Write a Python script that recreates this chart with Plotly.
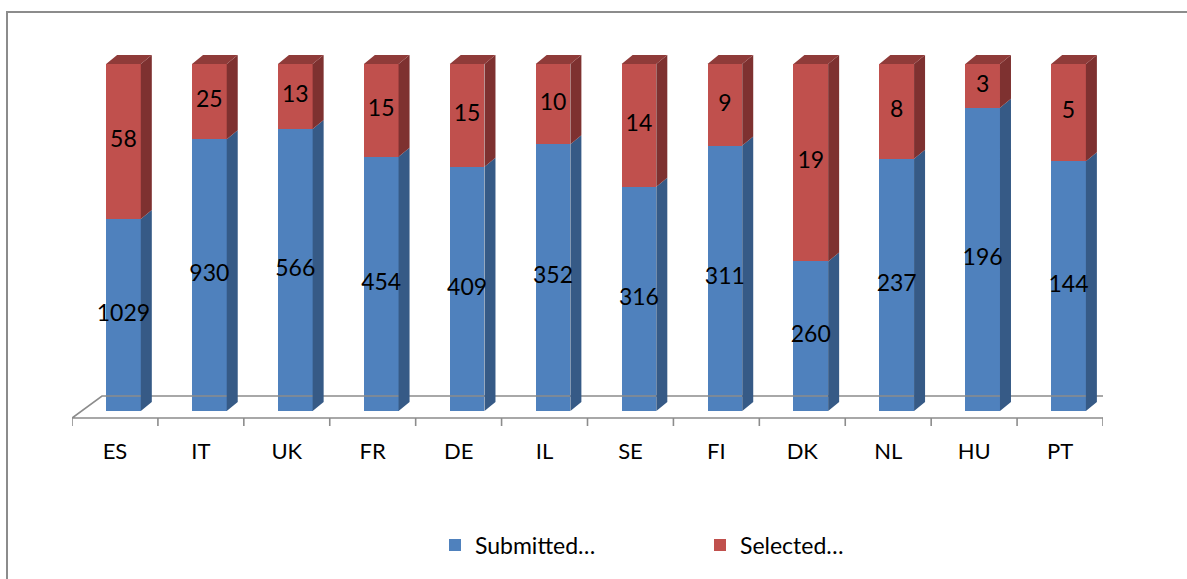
import plotly.graph_objects as go

# ---- data ----
categories = ["ES", "IT", "UK", "FR", "DE", "IL", "SE", "FI", "DK", "NL", "HU", "PT"]
submitted = [1029, 930, 566, 454, 409, 352, 316, 311, 260, 237, 196, 144]
selected = [58, 25, 13, 15, 15, 10, 14, 9, 19, 8, 3, 5]
# plotted shares (100 % stacked column heights as drawn)
submitted_share = [55.3, 78.3, 81.3, 73.3, 70.4, 76.9, 64.6, 76.5, 43.1, 72.7, 87.4, 72.0]
selected_share = [44.7, 21.7, 18.7, 26.7, 29.6, 23.1, 35.4, 23.5, 56.9, 27.3, 12.6, 28.0]

# ---- style / geometry constants ----
BLUE, RED = "#4F81BD", "#C0504D"
BLUE_SIDE, RED_SIDE, RED_TOP = "#365A86", "#7E3130", "#8F3B39"
GRID = "#8C8C8C"
FONT = "Lato"
W, H = 1187, 579
L, R, T, B = 72, 84, 40, 149
PX_X = (W - L - R) / 12.0          # px per category
PX_Y = 3.47                        # px per percent
Y0 = -19 / PX_Y
YMAX = Y0 + (H - T - B) / PX_Y
OFF = 8.5 / PX_X                   # front-face shift from slot centre
BW = 34.7 / PX_X                   # bar front width
DX, DY = 11 / PX_X, 9 / PX_Y       # bar depth
FDX, FDY = 30 / PX_X, 22 / PX_Y    # floor depth
FLOOR_FRONT = -7 / PX_Y
TICK_LEN = 8 / PX_Y

n = len(categories)
xs = [i + OFF for i in range(n)]
tops = [a + b for a, b in zip(submitted_share, selected_share)]

fig = go.Figure()

# floor
fx = [-0.5, n - 0.5, n - 0.5 + FDX, -0.5 + FDX, -0.5]
fy = [FLOOR_FRONT, FLOOR_FRONT, FLOOR_FRONT + FDY, FLOOR_FRONT + FDY, FLOOR_FRONT]
fig.add_trace(go.Scatter(x=fx, y=fy, mode="lines", line=dict(color=GRID, width=1.6),
                         hoverinfo="skip", showlegend=False))
tx, ty = [], []
for k in range(n + 1):
    tx += [k - 0.5, k - 0.5, None]
    ty += [FLOOR_FRONT, FLOOR_FRONT - TICK_LEN, None]
fig.add_trace(go.Scatter(x=tx, y=ty, mode="lines", line=dict(color=GRID, width=1.6),
                         hoverinfo="skip", showlegend=False))

# front faces
fig.add_trace(go.Bar(x=xs, y=submitted_share, width=BW, name="Submitted…",
                     marker=dict(color=BLUE, line=dict(width=0)), hoverinfo="skip"))
fig.add_trace(go.Bar(x=xs, y=selected_share, width=BW, name="Selected…",
                     marker=dict(color=RED, line=dict(width=0)), hoverinfo="skip"))

# side + top faces
bsx, bsy, rsx, rsy, rtx, rty = [], [], [], [], [], []
for x, b, t in zip(xs, submitted_share, tops):
    xl, xr = x - BW / 2, x + BW / 2
    bsx += [xr, xr + DX, xr + DX, xr, xr, None]
    bsy += [0, DY, b + DY, b, 0, None]
    rsx += [xr, xr + DX, xr + DX, xr, xr, None]
    rsy += [b, b + DY, t + DY, t, b, None]
    rtx += [xl, xr, xr + DX, xl + DX, xl, None]
    rty += [t, t, t + DY, t + DY, t, None]
for px, py, c in [(bsx, bsy, BLUE_SIDE), (rsx, rsy, RED_SIDE), (rtx, rty, RED_TOP)]:
    fig.add_trace(go.Scatter(x=px, y=py, mode="lines", fill="toself", fillcolor=c,
                             line=dict(width=0, color=c), hoverinfo="skip", showlegend=False))

# data labels
lx = xs + xs
ly = [b / 2 for b in submitted_share] + [b + r / 2 for b, r in zip(submitted_share, selected_share)]
lt = [str(v) for v in submitted] + [str(v) for v in selected]
fig.add_trace(go.Scatter(x=lx, y=ly, mode="text", text=lt,
                         textfont=dict(family=FONT, size=23, color="black"),
                         hoverinfo="skip", showlegend=False))

# chart-area border
fig.add_shape(type="rect", xref="paper", yref="paper",
              x0=(7 - L) / (W - L - R), x1=1.2,
              y0=-0.6, y1=((H - B) - 12) / (H - T - B),
              line=dict(color=GRID, width=2), fillcolor="rgba(0,0,0,0)", layer="below")

fig.update_layout(
    width=W, height=H, autosize=False,
    margin=dict(l=L, r=R, t=T, b=B),
    paper_bgcolor="white", plot_bgcolor="white",
    barmode="stack", bargap=0,
    font=dict(family=FONT, size=22, color="black"),
    xaxis=dict(range=[-0.5, n - 0.5], tickvals=list(range(n)), ticktext=categories,
               showgrid=False, zeroline=False, showline=False, ticks="",
               ticklabelstandoff=6,
               tickfont=dict(family=FONT, size=22, color="black"), fixedrange=True),
    yaxis=dict(range=[Y0, YMAX], showgrid=False, zeroline=False, showline=False,
               showticklabels=False, ticks="", fixedrange=True),
    showlegend=True,
    legend=dict(orientation="h", x=(435 - L) / (W - L - R), xanchor="left",
                y=((H - B) - 545) / (H - T - B), yanchor="middle",
                entrywidth=220, entrywidthmode="pixels",
                font=dict(family=FONT, size=23, color="black"),
                bgcolor="rgba(0,0,0,0)", traceorder="normal"),
)

fig.write_html("out.html")
